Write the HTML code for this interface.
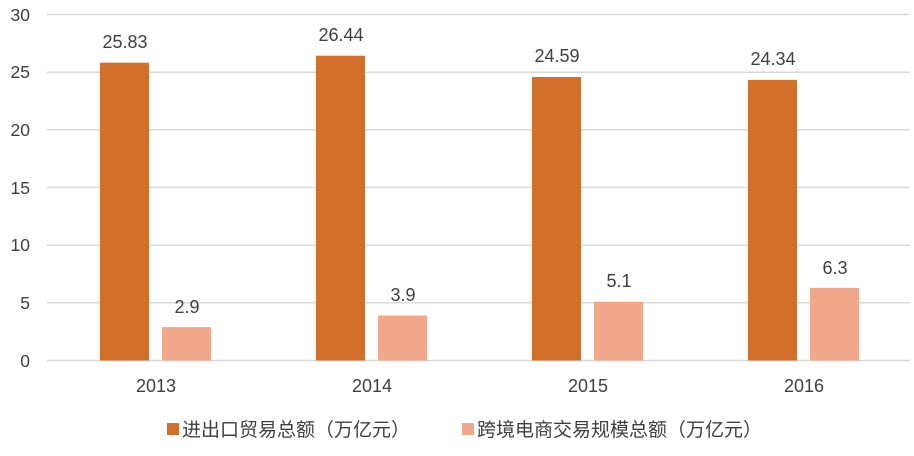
<!DOCTYPE html>
<html><head><meta charset="utf-8"><style>
body{margin:0;background:#fff;}
svg text{font-family:"Liberation Sans","Noto Sans CJK SC",sans-serif;fill:#404040;}
</style></head><body>
<svg width="914" height="451" xmlns="http://www.w3.org/2000/svg">
<g stroke="#d9d9d9" stroke-width="1.5">
<line x1="47" x2="910" y1="14.5" y2="14.5"/><line x1="47" x2="910" y1="72.2" y2="72.2"/>
<line x1="47" x2="910" y1="129.8" y2="129.8"/><line x1="47" x2="910" y1="187.5" y2="187.5"/>
<line x1="47" x2="910" y1="245.2" y2="245.2"/><line x1="47" x2="910" y1="302.8" y2="302.8"/>
<line x1="47" x2="910" y1="360.5" y2="360.5"/>
</g>
<g font-size="17.5" text-anchor="end">
<text x="30" y="21">30</text><text x="30" y="78">25</text><text x="30" y="136">20</text>
<text x="30" y="194">15</text><text x="30" y="251">10</text><text x="30" y="309">5</text><text x="30" y="367">0</text>
</g>
<g fill="#d2702b">
<rect x="100" y="62.7" width="49" height="297.8"/>
<rect x="316" y="55.7" width="49" height="304.8"/>
<rect x="532" y="77" width="49" height="283.5"/>
<rect x="748" y="79.9" width="49" height="280.6"/>
</g>
<g fill="#f0a78a">
<rect x="162" y="327.1" width="49" height="33.4"/>
<rect x="378" y="315.5" width="49" height="45"/>
<rect x="594" y="301.7" width="49" height="58.8"/>
<rect x="810" y="287.9" width="49" height="72.6"/>
</g>
<g font-size="18" text-anchor="middle">
<text x="125" y="48">25.83</text><text x="341" y="41">26.44</text><text x="557" y="62">24.59</text><text x="773" y="65">24.34</text>
<text x="187" y="313">2.9</text><text x="403" y="301">3.9</text><text x="619" y="287">5.1</text><text x="835" y="274">6.3</text>
<text x="156" y="392">2013</text><text x="372" y="392">2014</text><text x="588" y="392">2015</text><text x="804" y="392">2016</text>
</g>
<rect x="167" y="423" width="12" height="12" fill="#d2702b"/>
<text x="182" y="436" font-size="19">进出口贸易总额（万亿元）</text>
<rect x="462" y="423" width="12" height="12" fill="#f0a78a"/>
<text x="477" y="436" font-size="19">跨境电商交易规模总额（万亿元）</text>
</svg>
</body></html>
